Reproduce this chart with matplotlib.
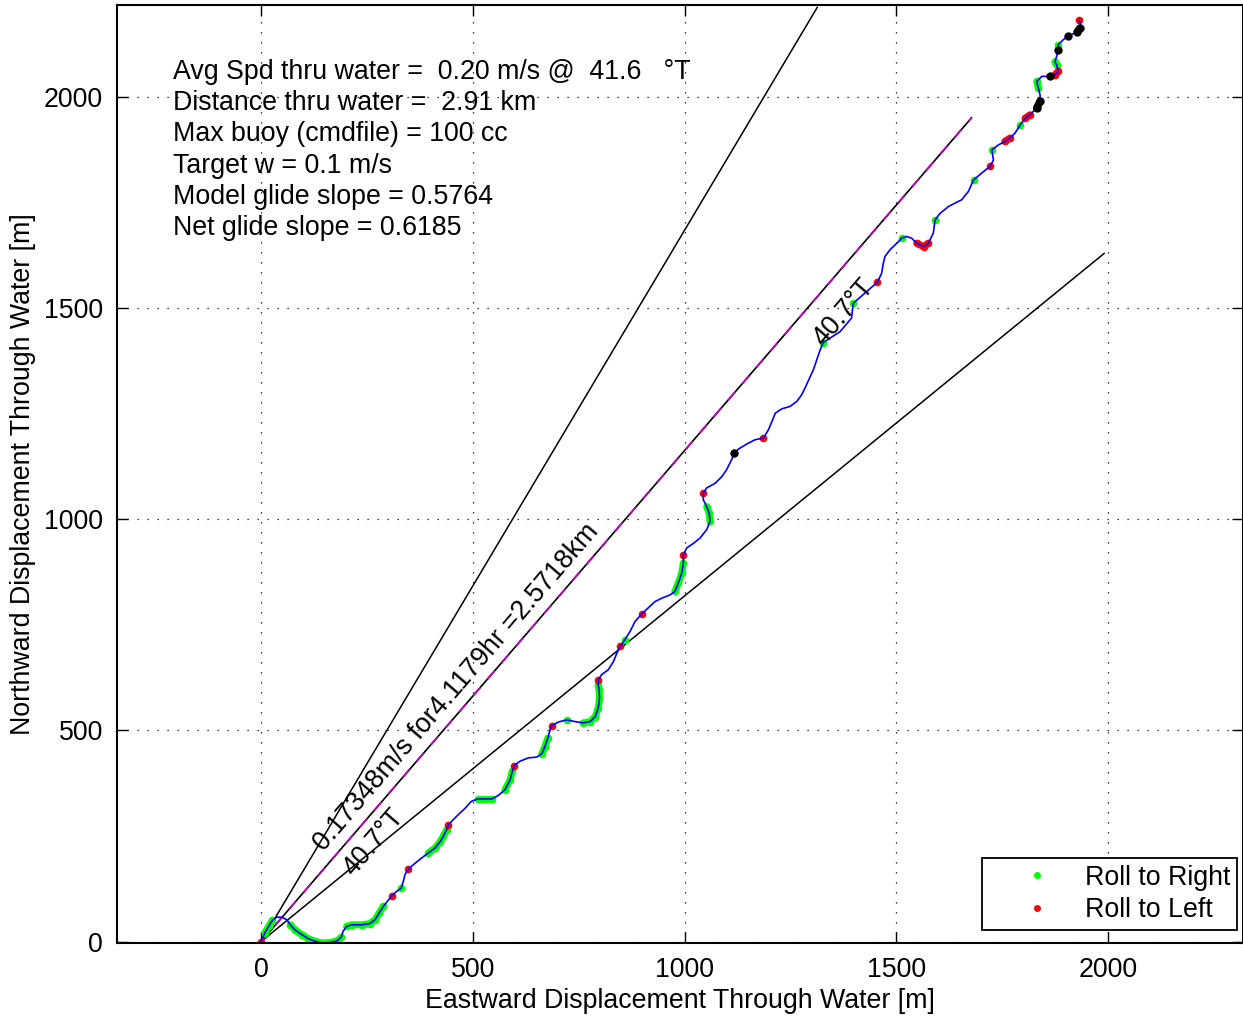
import numpy as np
import matplotlib
matplotlib.use('Agg')
import matplotlib.pyplot as plt
from matplotlib.lines import Line2D

plt.rcParams['font.family'] = ['Liberation Sans', 'DejaVu Sans']

# glider track through water [m]
east = [0, 9, 19, 27, 37, 49, 61, 69, 80, 96, 112, 128, 143, 163, 179, 189, 194, 202, 214, 238,
        257, 269, 279, 289, 301, 309, 320, 331, 336, 340, 348, 364, 379, 395, 411, 423, 430, 438,
        442, 454, 466, 482, 496, 512, 529, 545, 560, 576, 588, 593, 598, 611, 631, 651, 663, 670,
        677, 682, 686, 702, 722, 741, 761, 777, 789, 796, 799, 798, 796, 796, 804, 820, 832, 840,
        848, 859, 871, 883, 899, 914, 930, 946, 966, 977, 985, 993, 997, 997, 1005, 1021, 1036,
        1052, 1060, 1058, 1052, 1044, 1044, 1052, 1072, 1088, 1099, 1111, 1117, 1127, 1147, 1166,
        1186, 1198, 1206, 1214, 1229, 1249, 1265, 1276, 1282, 1304, 1320, 1327, 1367, 1394, 1398,
        1430, 1455, 1465, 1469, 1473, 1485, 1505, 1512, 1524, 1536, 1548, 1564, 1575, 1587, 1591,
        1603, 1623, 1638, 1654, 1670, 1682, 1701, 1721, 1729, 1725, 1741, 1756, 1768, 1780, 1792,
        1804, 1815, 1831, 1839, 1839, 1835, 1831, 1843, 1863, 1874, 1882, 1878, 1874, 1878, 1882,
        1882, 1894, 1906, 1918, 1927, 1933, 1935, 1931]
north = [0, 21, 38, 51, 58, 58, 52, 40, 28, 17, 7, 1, -3, -2, 2, 10, 25, 36, 40, 40,
         43, 52, 68, 84, 99, 109, 119, 127, 143, 159, 172, 186, 198, 210, 222, 237, 249, 265,
         277, 289, 301, 316, 332, 338, 338, 338, 346, 360, 383, 403, 417, 427, 435, 437, 445, 462,
         482, 500, 511, 520, 525, 521, 518, 521, 533, 553, 577, 595, 608, 620, 632, 644, 663, 683,
         699, 715, 734, 758, 776, 790, 805, 813, 821, 829, 849, 872, 896, 916, 932, 943, 955,
         975, 995, 1014, 1030, 1046, 1062, 1074, 1085, 1101, 1117, 1141, 1156, 1166, 1178, 1188,
         1192, 1212, 1231, 1251, 1261, 1267, 1279, 1294, 1306, 1354, 1401, 1418, 1444, 1476, 1511,
         1539, 1561, 1582, 1606, 1622, 1638, 1657, 1665, 1669, 1665, 1653, 1645, 1653, 1677, 1708,
         1724, 1740, 1748, 1756, 1776, 1803, 1819, 1835, 1850, 1874, 1886, 1894, 1902, 1914, 1933,
         1949, 1957, 1973, 1989, 2004, 2020, 2036, 2048, 2048, 2052, 2060, 2075, 2083, 2095, 2111,
         2123, 2135, 2144, 2149, 2154, 2162, 2170, 2182]

# index ranges of the track flagged by roll state
roll_right = [(1, 3), (7, 15), (17, 23), (27, 27), (33, 37), (43, 45), (47, 49), (54, 56),
              (60, 60), (62, 68), (75, 75), (83, 86), (92, 94), (102, 102), (117, 117),
              (120, 120), (128, 128), (135, 135), (141, 141), (145, 145), (150, 150),
              (156, 157), (162, 163), (166, 166)]
roll_left = [(0, 0), (25, 25), (30, 30), (38, 38), (50, 50), (58, 58), (69, 69), (74, 74),
             (78, 78), (87, 87), (96, 96), (106, 106), (122, 122), (131, 133), (143, 143),
             (147, 148), (151, 152), (160, 161), (173, 173)]
other = [(102, 102), (153, 154), (159, 159), (165, 165), (168, 168), (170, 171)]

heading = 40.7
spread = 10.0
speed = 0.17348
hours = 4.1179
dist_km = 2.5718

info = ['Avg Spd thru water =  0.20 m/s @  41.6   °T',
        'Distance thru water =  2.91 km',
        'Max buoy (cmdfile) = 100 cc',
        'Target w = 0.1 m/s',
        'Model glide slope = 0.5764',
        'Net glide slope = 0.6185']

east = np.array(east, float)
north = np.array(north, float)

fig = plt.figure(figsize=(12.43, 10.18), dpi=100)
ax = fig.add_axes([0.0941, 0.0737, 0.9059, 0.9214])

L = dist_km * 1000
for h in [heading - spread, heading + spread]:
    r = np.radians(h)
    ax.plot([0, L * np.sin(r)], [0, L * np.cos(r)], color='k', lw=1.1)
r = np.radians(heading)
ax.plot([0, L * np.sin(r)], [0, L * np.cos(r)], color='k', lw=1.2)
ax.plot([0, L * np.sin(r)], [0, L * np.cos(r)], color='m', lw=1.3, ls=(0, (6, 6)))

def draw_runs(runs, col, lw, ms):
    for a, b in runs:
        ax.plot(east[a:b + 1], north[a:b + 1], color=col, lw=lw, marker='o', ms=ms,
                mec='none', solid_capstyle='round', solid_joinstyle='round')

draw_runs(roll_right, '#00ff00', 5, 5.5)
draw_runs(roll_left, '#ff0000', 5, 5.5)
ax.plot(east, north, color='#0000ff', lw=1.2, solid_joinstyle='round')
draw_runs(other, 'k', 5.5, 6)

fs = 19.3
ax.text(148, 212, '%.5gm/s for%.5ghr =%.5gkm' % (speed, hours, dist_km), fontsize=fs,
        rotation=49.3, rotation_mode='anchor', ha='left', va='baseline')
ax.text(217, 152, '%.1f°T' % heading, fontsize=fs, rotation=49.3,
        rotation_mode='anchor', ha='left', va='baseline')
ax.text(1327, 1408, '%.1f°T' % heading, fontsize=fs, rotation=49.3,
        rotation_mode='anchor', ha='left', va='baseline')

for i, s in enumerate(info):
    ax.text(-208, 2042 - i * 74, s, fontsize=fs, ha='left', va='baseline')

h1 = Line2D([], [], ls='none', marker='o', ms=5, color='#00ff00', mec='none', label='Roll to Right')
h2 = Line2D([], [], ls='none', marker='o', ms=5, color='#ff0000', mec='none', label='Roll to Left')
leg = ax.legend(handles=[h1, h2], loc='lower right', bbox_to_anchor=(0.9947, 0.0139),
                borderaxespad=0, fontsize=fs, fancybox=False, framealpha=1, edgecolor='k',
                borderpad=0.25, labelspacing=0.25, handlelength=3.6, handletextpad=0.0,
                numpoints=1)
leg.get_frame().set_linewidth(1.3)

ax.set_xlim(-340, 2318)
ax.set_ylim(-3, 2217)
ax.set_xticks([0, 500, 1000, 1500, 2000])
ax.set_yticks([0, 500, 1000, 1500, 2000])
ax.tick_params(direction='in', length=8, width=1, labelsize=fs, top=True, right=True, pad=10)
ax.grid(True, color='k', ls=(0, (1, 7)), lw=0.9)
for sp in ax.spines.values():
    sp.set_linewidth(1.5)
ax.set_xlabel('Eastward Displacement Through Water [m]', fontsize=fs, labelpad=4)
ax.set_ylabel('Northward Displacement Through Water [m]', fontsize=fs, labelpad=6)

fig.savefig('out.png', dpi=100)
